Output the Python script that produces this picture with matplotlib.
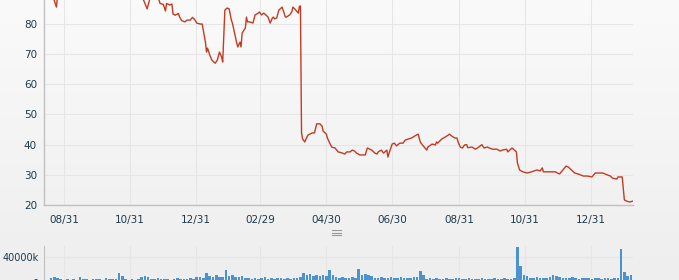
import numpy as np
import pandas as pd
import matplotlib
matplotlib.use('Agg')
import matplotlib.pyplot as plt
from matplotlib.colors import LinearSegmentedColormap
from matplotlib.lines import Line2D

# closing price
price_dates = [
    "2011-08-20", "2011-08-24", "2011-08-25", "2011-09-01", "2011-09-15", "2011-10-01",
    "2011-10-17", "2011-11-01", "2011-11-08", "2011-11-12", "2011-11-13", "2011-11-16",
    "2011-11-19", "2011-11-23", "2011-11-27", "2011-11-28", "2011-12-01", "2011-12-03",
    "2011-12-04", "2011-12-07", "2011-12-09", "2011-12-10", "2011-12-12", "2011-12-15",
    "2011-12-16", "2011-12-18", "2011-12-21", "2011-12-23", "2011-12-26", "2011-12-28",
    "2011-12-30", "2012-01-01", "2012-01-04", "2012-01-06", "2012-01-07", "2012-01-09",
    "2012-01-10", "2012-01-11", "2012-01-13", "2012-01-15", "2012-01-18", "2012-01-20",
    "2012-01-22", "2012-01-24", "2012-01-25", "2012-01-27", "2012-01-29", "2012-01-31",
    "2012-02-02", "2012-02-03", "2012-02-05", "2012-02-07", "2012-02-08", "2012-02-10",
    "2012-02-11", "2012-02-12", "2012-02-15", "2012-02-16", "2012-02-17", "2012-02-19",
    "2012-02-22", "2012-02-24", "2012-02-27", "2012-02-28", "2012-03-01", "2012-03-03",
    "2012-03-05", "2012-03-07", "2012-03-09", "2012-03-11", "2012-03-12", "2012-03-13",
    "2012-03-15", "2012-03-17", "2012-03-20", "2012-03-21", "2012-03-23", "2012-03-24",
    "2012-03-27", "2012-03-29", "2012-03-30", "2012-04-01", "2012-04-03", "2012-04-04",
    "2012-04-05", "2012-04-06", "2012-04-07", "2012-04-08", "2012-04-10", "2012-04-12",
    "2012-04-13", "2012-04-17", "2012-04-19", "2012-04-21", "2012-04-24", "2012-04-26",
    "2012-04-27", "2012-04-30", "2012-05-01", "2012-05-03", "2012-05-05", "2012-05-08",
    "2012-05-11", "2012-05-15", "2012-05-17", "2012-05-19", "2012-05-22", "2012-05-24",
    "2012-05-26", "2012-05-28", "2012-05-31", "2012-06-05", "2012-06-07", "2012-06-11",
    "2012-06-14", "2012-06-16", "2012-06-17", "2012-06-20", "2012-06-22", "2012-06-25",
    "2012-06-26", "2012-06-28", "2012-06-30", "2012-07-02", "2012-07-04", "2012-07-07",
    "2012-07-10", "2012-07-12", "2012-07-15", "2012-07-18", "2012-07-21", "2012-07-24",
    "2012-07-26", "2012-07-28", "2012-08-01", "2012-08-02", "2012-08-06", "2012-08-09",
    "2012-08-10", "2012-08-11", "2012-08-15", "2012-08-18", "2012-08-21", "2012-08-22",
    "2012-08-24", "2012-08-27", "2012-08-29", "2012-08-30", "2012-09-01", "2012-09-03",
    "2012-09-05", "2012-09-07", "2012-09-08", "2012-09-12", "2012-09-15", "2012-09-17",
    "2012-09-21", "2012-09-23", "2012-09-26", "2012-09-28", "2012-10-01", "2012-10-05",
    "2012-10-08", "2012-10-10", "2012-10-14", "2012-10-15", "2012-10-19", "2012-10-22",
    "2012-10-23", "2012-10-24", "2012-10-26", "2012-10-29", "2012-11-02", "2012-11-06",
    "2012-11-11", "2012-11-14", "2012-11-16", "2012-11-17", "2012-11-20", "2012-11-23",
    "2012-11-28", "2012-11-30", "2012-12-02", "2012-12-05", "2012-12-08", "2012-12-10",
    "2012-12-13", "2012-12-16", "2012-12-19", "2012-12-24", "2012-12-28", "2013-01-01",
    "2013-01-04", "2013-01-08", "2013-01-11", "2013-01-15", "2013-01-18", "2013-01-20",
    "2013-01-24", "2013-01-25", "2013-01-29", "2013-01-30", "2013-01-31", "2013-02-02",
    "2013-02-05", "2013-02-08",
]
price_values = [
    90.0, 85.6, 89.0, 91.0, 93.0, 92.0,
    94.0, 92.0, 90.0, 88.3, 87.7, 85.0,
    89.0, 89.5, 88.0, 86.8, 86.5, 84.3,
    86.8, 86.3, 86.6, 83.3, 82.9, 83.5,
    82.4, 81.1, 80.7, 81.3, 81.3, 82.2,
    81.5, 80.3, 80.0, 80.0, 78.0, 74.0,
    70.7, 72.0, 69.7, 68.0, 67.0, 68.0,
    70.7, 69.0, 67.4, 84.6, 85.3, 85.0,
    81.3, 80.3, 77.0, 73.7, 72.4, 74.0,
    72.4, 77.0, 78.7, 82.3, 80.7, 80.7,
    80.3, 83.0, 83.6, 84.0, 83.0, 83.6,
    83.0, 82.3, 80.3, 82.0, 82.3, 81.7,
    82.0, 84.6, 85.6, 84.6, 82.3, 82.3,
    83.0, 84.0, 85.6, 84.9, 84.0, 83.6,
    85.8, 86.0, 43.9, 41.9, 40.9, 42.5,
    43.2, 43.9, 43.9, 46.9, 46.9, 46.2,
    44.5, 43.5, 42.2, 40.6, 39.2, 38.9,
    37.6, 37.2, 36.9, 37.6, 37.6, 38.2,
    37.9, 37.2, 36.6, 36.6, 38.9, 38.2,
    37.2, 36.9, 37.6, 38.2, 37.2, 38.2,
    35.9, 38.2, 40.2, 40.5, 39.6, 40.5,
    40.5, 41.5, 41.9, 42.2, 42.9, 43.5,
    40.9, 39.9, 38.2, 39.2, 40.2, 39.9,
    40.9, 40.5, 41.9, 42.5, 43.2, 43.5,
    42.9, 42.2, 42.2, 40.9, 39.2, 38.9,
    39.9, 40.0, 39.0, 39.2, 38.5, 38.9,
    40.0, 38.9, 39.2, 38.9, 38.5, 38.5,
    37.9, 38.2, 38.5, 37.6, 38.9, 37.9,
    37.6, 33.9, 31.6, 31.0, 30.6, 31.0,
    31.6, 31.3, 32.3, 31.0, 31.0, 31.0,
    31.0, 30.6, 30.3, 31.6, 32.9, 32.6,
    31.6, 30.6, 30.3, 29.6, 29.6, 29.3,
    30.6, 30.6, 30.6, 30.0, 29.6, 28.9,
    28.6, 29.3, 29.3, 25.6, 21.7, 21.3,
    21.0, 21.3,
]

# volume in thousands, one value per 3 days starting 2011-08-19
vol_start = "2011-08-19"
volume = [
    7000, 9500, 8000, 6500, 5000, 6000, 4500, 5500, 5000, 9500,
    5500, 6000, 5000, 6500, 5500, 6000, 5000, 7000, 6000, 5500,
    6500, 15000, 11000, 6000, 5000, 5500, 4500, 6500, 10000, 11500,
    9000, 6500, 5500, 7000, 6000, 5500, 6500, 5000, 6000, 7000,
    5500, 6000, 6500, 7000, 6000, 8500, 10000, 8000, 15000, 11000,
    9500, 12000, 10000, 9000, 20000, 11000, 12000, 10000, 9500, 11000,
    7000, 8000, 6500, 7500, 6000, 7000, 8500, 6500, 7000, 6000,
    7500, 8000, 6500, 7000, 6000, 7500, 8000, 9000, 15000, 13000,
    14000, 11000, 12000, 10500, 13000, 11000, 20000, 12000, 9000, 8000,
    8500, 7500, 8000, 9000, 7500, 21000, 13000, 14000, 12000, 11000,
    8000, 7500, 9000, 8000, 7000, 8500, 7500, 8000, 9000, 7000,
    8000, 7500, 8500, 9000, 19000, 12000, 6500, 7000, 6000, 7500,
    6500, 5500, 7000, 6000, 6500, 7000, 8000, 6500, 6000, 7000,
    6500, 5500, 6000, 7000, 6500, 6000, 5500, 7000, 6500, 6000,
    7500, 6500, 6000, 7000, 55000, 26500, 12000, 10500, 8000, 7500,
    9000, 7000, 8000, 7500, 8500, 12000, 11500, 10000, 7500, 8000,
    7000, 8500, 7500, 6500, 8000, 7000, 7500, 6500, 7000, 8000,
    6500, 7000, 7500, 6500, 7000, 8000, 52000, 17000, 11000, 12000,
]

tick_dates = ["2011-08-31", "2011-10-31", "2011-12-31", "2012-02-29", "2012-04-30",
              "2012-06-30", "2012-08-31", "2012-10-31", "2012-12-31"]

W, H = 679, 280
fig = plt.figure(figsize=(W / 100, H / 100), dpi=100)

# soft vertical background gradient
bg = fig.add_axes([0, 0, 1, 1], zorder=-10)
grad = np.linspace(0, 1, 256).reshape(-1, 1)
bg.imshow(grad, aspect='auto', extent=[0, 1, 0, 1],
          cmap=LinearSegmentedColormap.from_list('bg', ['#fafafa', '#eeeeee']))
bg.axis('off')

text_col = '#1d3a4a'
grid_col = '#e6e6e6'
axis_col = '#c0c0c0'
xmin = pd.Timestamp("2011-08-12 12:00")
xmax = pd.Timestamp("2013-02-08")
ticks = pd.to_datetime(tick_dates)

# price pane (top runs past the picture edge)
px_per_unit = 181 / 60
ax = fig.add_axes([44 / W, 1 - 205 / H, 589 / W, 80 * px_per_unit / H])
ax.patch.set_alpha(0)
ax.plot(pd.to_datetime(price_dates), price_values, color='#c23b22', lw=1.0)
ax.set_ylim(20, 100)
ax.set_yticks(range(20, 81, 10))
ax.set_xlim(xmin, xmax)
ax.set_xticks(ticks)
ax.set_xticklabels([t.strftime('%m/%d') for t in ticks])
ax.grid(True, color=grid_col, lw=0.75)
ax.set_axisbelow(True)
for s in ['top', 'right']:
    ax.spines[s].set_visible(False)
for s in ['left', 'bottom']:
    ax.spines[s].set_color(axis_col)
    ax.spines[s].set_linewidth(1.0)
ax.tick_params(axis='both', length=0, labelsize=7.5, labelcolor=text_col)
ax.tick_params(axis='y', pad=5)
ax.tick_params(axis='x', pad=7)

# volume pane (bottom cut off by the picture edge)
vax = fig.add_axes([44 / W, 1 - 283 / H, 589 / W, 37 / H])
vax.patch.set_alpha(0)
vol_dates = pd.date_range(vol_start, periods=len(volume), freq='3D')
vax.bar(vol_dates, volume, width=2.4, color='#4a93cf', lw=0)
vax.set_ylim(0, 57000)
vax.set_yticks([0, 40000])
vax.set_yticklabels(['0', '40000k'])
vax.set_xlim(xmin, xmax)
vax.set_xticks(ticks)
vax.set_xticklabels([])
vax.grid(True, color=grid_col, lw=0.75)
vax.set_axisbelow(True)
for s in ['top', 'right', 'bottom']:
    vax.spines[s].set_visible(False)
vax.spines['left'].set_color(axis_col)
vax.tick_params(axis='both', length=0, labelsize=7, labelcolor=text_col)
vax.tick_params(axis='y', pad=4)

# navigator grip
for yy in (230, 232.5, 235):
    fig.add_artist(Line2D([332 / W, 341 / W], [1 - yy / H, 1 - yy / H],
                          color='#9a9a9a', lw=0.8))

fig.savefig('out.png', dpi=100)
